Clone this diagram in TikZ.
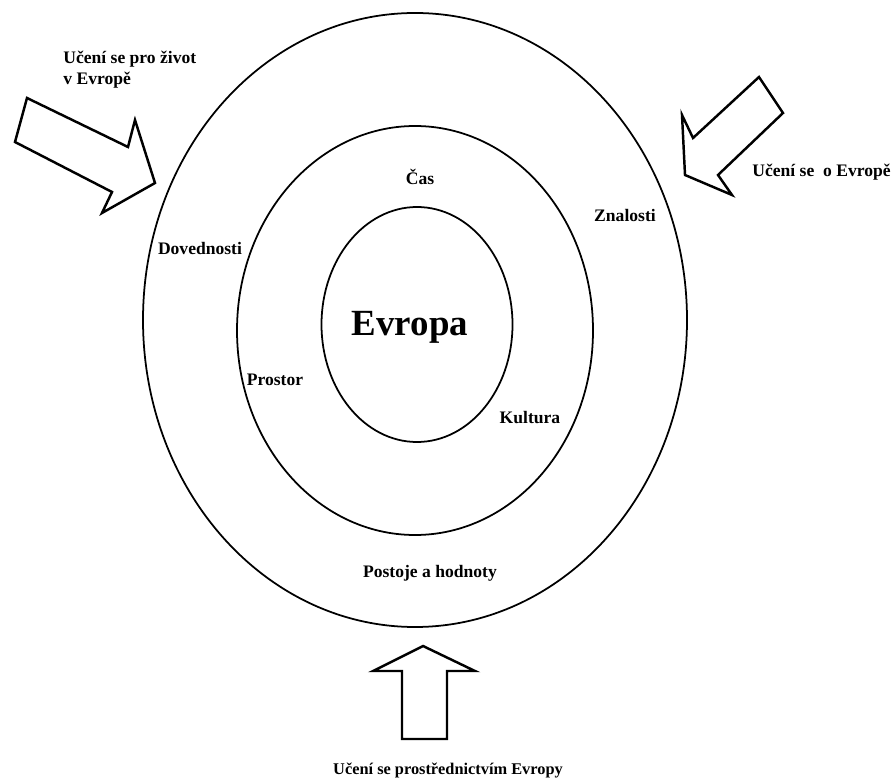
\documentclass[tikz,border=0pt]{standalone}
\usepackage{fontspec}
\setmainfont{Liberation Serif}
\usetikzlibrary{positioning,calc}
\tikzset{
    ring/.style={line width=1pt},
    blockarrow/.style={line width=1.4pt, line join=miter, fill=white},
    lbl/.style={font=\bfseries\fontsize{10}{12}\selectfont, inner sep=1pt}
}

\begin{document}
\begin{tikzpicture}
    \useasboundingbox (0,0) rectangle (17.82,15.64);

    % three rings
    \draw[ring] (8.30,9.24) ellipse (5.44cm and 6.14cm);
    \draw[ring] (8.30,9.03) ellipse (3.56cm and 4.09cm);
    \draw[ring] (8.34,9.15) ellipse (1.91cm and 2.35cm);

    \node[font=\bfseries\fontsize{21}{25}\selectfont] (evropa) at (8.20,9.10) {Evropa};
    \node[lbl] (cas) at (8.40,12.10) {Čas};
    \node[lbl] (prostor) at (5.50,8.04) {Prostor};
    \node[lbl] (kultura) at (10.60,7.28) {Kultura};
    \node[lbl] (znalosti) at (12.50,11.34) {Znalosti};
    \node[lbl, fill=white] (dovednosti) at (4.00,10.68) {Dovednosti};
    \node[lbl] (postoje) at (8.60,4.18) {Postoje a hodnoty};

    % arrows from outside
    \draw[blockarrow] (0.54,13.68) -- (2.56,12.70) -- (2.70,13.24) -- (3.10,11.98)
        -- (2.04,11.38) -- (2.24,11.80) -- (0.30,12.80) -- cycle;
    \draw[blockarrow] (15.18,14.10) -- (15.66,13.38) -- (14.36,12.14) -- (14.64,11.74)
        -- (13.70,12.14) -- (13.64,13.34) -- (13.86,12.88) -- cycle;
    \draw[blockarrow] (8.46,2.72) -- (9.50,2.22) -- (8.94,2.22) -- (8.94,0.86)
        -- (8.04,0.86) -- (8.04,2.22) -- (7.46,2.22) -- cycle;

    \node[lbl, anchor=west, align=left, inner sep=0pt] (zivot) at (1.26,14.24) {Učení se pro život\\v Evropě};
    \node[lbl, anchor=west, inner sep=0pt] (oevrope) at (15.04,12.20) {Učení se\ \ o Evropě};
    \node[lbl, font=\bfseries\fontsize{9.3}{11}\selectfont] (prostrednictvim) at (8.96,0.24) {Učení se prostřednictvím Evropy};
\end{tikzpicture}
\end{document}
